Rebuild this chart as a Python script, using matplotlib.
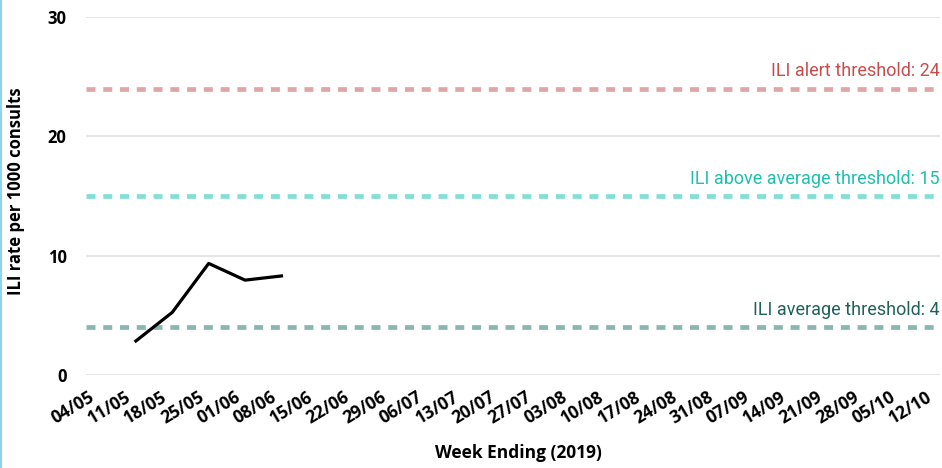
import numpy as np
import matplotlib
matplotlib.use("Agg")
import matplotlib.pyplot as plt
from matplotlib.lines import Line2D
from matplotlib.transforms import ScaledTranslation, blended_transform_factory

# week ending labels (2019)
weeks = ["04/05", "11/05", "18/05", "25/05", "01/06", "08/06", "15/06", "22/06",
         "29/06", "06/07", "13/07", "20/07", "27/07", "03/08", "10/08", "17/08",
         "24/08", "31/08", "07/09", "14/09", "21/09", "28/09", "05/10", "12/10"]
ili_rate = [np.nan, 2.85, 5.25, 9.35, 7.95, 8.3] + [np.nan] * 18

thresholds = [24, 15, 4]
thr_labels = ["ILI alert threshold: 24", "ILI above average threshold: 15",
              "ILI average threshold: 4"]
thr_line_cols = ["#E0A6A6", "#82DED6", "#8AB6B0"]
thr_text_cols = ["#C94B4B", "#1DBFB1", "#1F605B"]

yticks = [0, 10, 20, 30]

tick_font = "Open Sans"
thr_font = "Roboto"

fig = plt.figure(figsize=(9.42, 4.68), dpi=100)
ax = fig.add_axes([86 / 942, 1 - 375 / 468, 854 / 942, 358 / 468])

x = np.arange(len(weeks))
ax.set_xlim(-0.37, len(weeks) - 1 + 0.09)
ax.set_ylim(0, 30)

ax.set_yticks(yticks)
ax.yaxis.grid(True, color="#E6E6E6", linewidth=1.5)
ax.set_axisbelow(True)
for s in ax.spines.values():
    s.set_visible(False)
ax.tick_params(length=0)
ax.tick_params(axis="y", pad=14)

for t, lab, lc, tc in zip(thresholds, thr_labels, thr_line_cols, thr_text_cols):
    ax.axhline(t, color=lc, linewidth=3.4, dashes=(1.9, 1.65),
               dash_capstyle="butt", zorder=2)
    tr = blended_transform_factory(ax.transAxes, ax.transData)
    ax.annotate(lab, xy=(1.0, t), xycoords=tr, xytext=(0, 9),
                textcoords="offset points", ha="right", va="baseline",
                color=tc, fontsize=13, family=thr_font)

ax.plot(x, ili_rate, color="black", linewidth=2.3, zorder=3)

ax.set_xticks(x)
ax.set_xticklabels(weeks, rotation=31, ha="right", va="top",
                   rotation_mode="anchor", fontsize=12.5,
                   fontweight="bold", family=tick_font)
for lab in ax.get_xticklabels():
    lab.set_transform(lab.get_transform() + ScaledTranslation(-8 / 72, -6 / 72, fig.dpi_scale_trans))
for lab in ax.get_yticklabels():
    lab.set_fontsize(12)
    lab.set_fontweight("bold")
    lab.set_family(tick_font)

fig.text(518 / 942, 1 - 453 / 468, "Week Ending (2019)", ha="center", va="center",
         fontsize=12.5, fontweight="bold", family=tick_font)
fig.text(16 / 942, 1 - 191 / 468, "ILI rate per 1000 consults", ha="center",
         va="center", rotation=90, fontsize=12, fontweight="bold", family=tick_font)

# light blue frame edge on the left
fig.add_artist(Line2D([0.001, 0.001], [0, 1], transform=fig.transFigure,
                      color="#8FD4E8", linewidth=1.5))

fig.savefig("out.png", dpi=100)
